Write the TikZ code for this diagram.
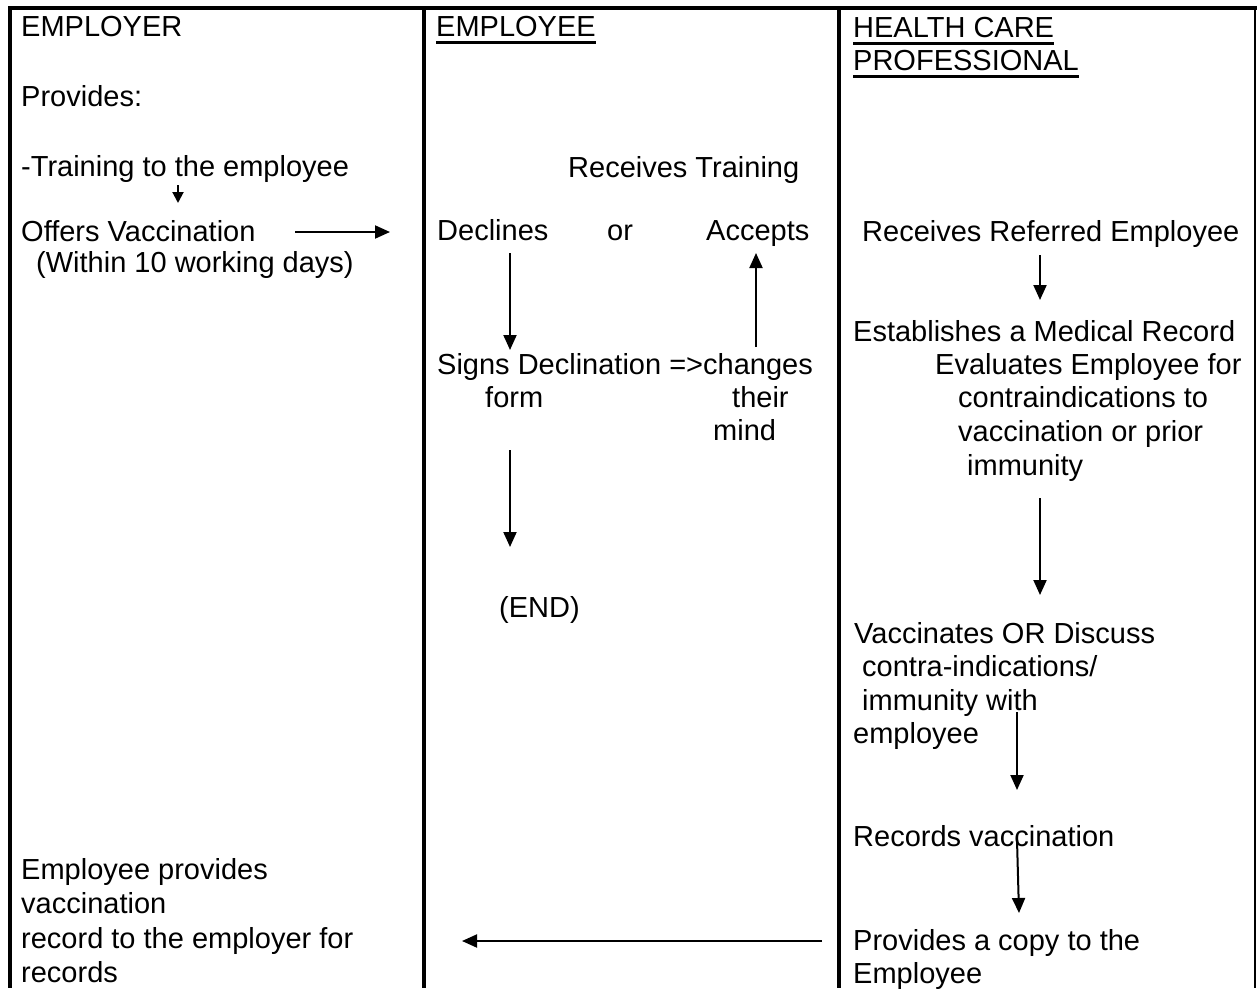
\documentclass[tikz,border=0pt]{standalone}
\usepackage{fontspec}
\setmainfont{Liberation Sans}
\usetikzlibrary{arrows.meta}
\begin{document}
\begin{tikzpicture}[x=1pt,y=-1pt,
  txt/.style={anchor=base west,inner sep=0pt,font=\fontsize{29}{33}\selectfont},
  frame/.style={line width=4pt},
  arr/.style={line width=2pt,-{Triangle[length=15pt,width=13pt]}},
  sarr/.style={line width=2pt,-{Triangle[length=11pt,width=11pt]}},
  uline/.style={line width=3pt}]
\useasboundingbox (0,0) rectangle (1257,988);
% frame
\draw[frame] (8,8) -- (1257,8);
\draw[frame] (10,6) -- (10,988);
\draw[frame] (424,8) -- (424,988);
\draw[frame] (839,8) -- (839,988);
\draw[line width=2pt] (1255,8) -- (1255,988);
% column 1
\node[txt] (er) at (21,36) {EMPLOYER};
\node[txt] (prov) at (21,106) {Provides:};
\node[txt] (trn) at (21,176) {-Training to the employee};
\node[txt] (off) at (21,241) {Offers Vaccination};
\node[txt] (within) at (36,272) {(Within 10 working days)};
\node[txt] (eprov) at (21,879) {Employee provides};
\node[txt] (vacc1) at (21,913) {vaccination};
\node[txt] (rec) at (21,948) {record to the employer for};
\node[txt] (recs) at (21,982) {records};
% column 2
\node[txt] (ee) at (436,36) {EMPLOYEE};
\node[txt] (rt) at (568,177) {Receives Training};
\node[txt] (dec) at (437,240) {Declines};
\node[txt] (or) at (607,240) {or};
\node[txt] (acc) at (706,240) {Accepts};
\node[txt] (sd) at (437,374) {Signs Declination =>changes};
\node[txt] (form) at (485,407) {form};
\node[txt] (their) at (732,407) {their};
\node[txt] (mind) at (713,440) {mind};
\node[txt] (end) at (499,617) {(END)};
% column 3
\node[txt] (hc) at (853,37) {HEALTH CARE};
\node[txt] (prof) at (853,70) {PROFESSIONAL};
\node[txt] (rre) at (862,241) {Receives Referred Employee};
\node[txt] (est) at (853,341) {Establishes a Medical Record};
\node[txt] (eval) at (935,374) {Evaluates Employee for};
\node[txt] (contra) at (958,407) {contraindications to};
\node[txt] (vop) at (958,441) {vaccination or prior};
\node[txt] (imm) at (967,475) {immunity};
\node[txt] (vod) at (854,643) {Vaccinates OR Discuss};
\node[txt] (ci) at (862,676) {contra-indications/};
\node[txt] (iw) at (862,710) {immunity with};
\node[txt] (empl) at (853,743) {employee};
\node[txt] (rv) at (853,846) {Records vaccination};
\node[txt] (pac) at (853,950) {Provides a copy to the};
\node[txt] (emp2) at (853,983) {Employee};
% underlines
\draw[uline] ([yshift=-6pt]ee.base west) -- ([yshift=-6pt]ee.base east);
\draw[uline] ([yshift=-6pt]hc.base west) -- ([yshift=-6pt]hc.base east);
\draw[uline] ([yshift=-6pt]prof.base west) -- ([yshift=-6pt]prof.base east);
% arrow end points
\coordinate (a1s) at (178,185); \coordinate (a1e) at (178,203);
\coordinate (a2s) at (295,232); \coordinate (a2e) at (390,232);
\coordinate (a3s) at (510,253); \coordinate (a3e) at (510,350);
\coordinate (a4s) at (756,347); \coordinate (a4e) at (756,253);
\coordinate (a5s) at (510,450); \coordinate (a5e) at (510,547);
\coordinate (a6s) at (1040,255); \coordinate (a6e) at (1040,300);
\coordinate (a7s) at (1040,498); \coordinate (a7e) at (1040,595);
\coordinate (a8s) at (1017,712); \coordinate (a8e) at (1017,790);
\coordinate (a9s) at (1017,840); \coordinate (a9e) at (1019,913);
\coordinate (a10s) at (822,941); \coordinate (a10e) at (462,941);
% arrows
\draw[sarr] (a1s) -- (a1e);
\draw[arr] (a2s) -- (a2e);
\draw[arr] (a3s) -- (a3e);
\draw[arr] (a4s) -- (a4e);
\draw[arr] (a5s) -- (a5e);
\draw[arr] (a6s) -- (a6e);
\draw[arr] (a7s) -- (a7e);
\draw[arr] (a8s) -- (a8e);
\draw[arr] (a9s) -- (a9e);
\draw[arr] (a10s) -- (a10e);
\end{tikzpicture}
\end{document}
